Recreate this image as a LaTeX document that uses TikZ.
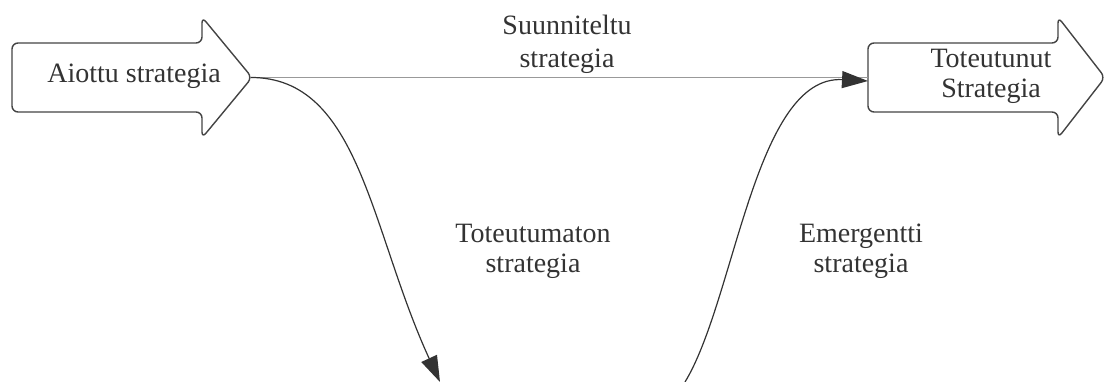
\documentclass[tikz,border=0pt]{standalone}
\usepackage{fontspec}
\setmainfont{Liberation Serif}
\newfontfamily\lblfont{Liberation Serif}
\usetikzlibrary{arrows.meta}
\definecolor{shapegray}{HTML}{444444}
\definecolor{linegray}{HTML}{333333}
\definecolor{lightline}{HTML}{999999}
\definecolor{txtgray}{HTML}{333333}
\begin{document}
\begin{tikzpicture}[x=1pt,y=-1pt,
  bigarrow/.style={draw=shapegray, line width=1.4pt, rounded corners=6pt, fill=white},
  lbl/.style={font=\lblfont\fontsize{28}{30}\selectfont, text=txtgray, align=center, inner sep=0pt},
  conn/.style={draw=linegray, line width=1.2pt, -{Triangle[length=26pt,width=17pt]}},
  plain/.style={draw=lightline, line width=1.8pt}]
\useasboundingbox (0,0) rectangle (1106,382);
% left big arrow
\draw[bigarrow] (12,77.5) -- (12,43) -- (202,43) -- (202,17) -- (252,77.5) -- (202,138) -- (202,112) -- (12,112) -- cycle;
% right big arrow
\draw[bigarrow] (868,77.5) -- (868,43) -- (1058,43) -- (1058,17) -- (1105,77.5) -- (1058,138) -- (1058,112) -- (868,112) -- cycle;
\coordinate (atip) at (250.5,77.5);
\coordinate (rin) at (868,77.5);
\coordinate (rin2) at (868,81);
\coordinate (lend) at (440,382);
\coordinate (rstart) at (685,382);
% texts
\node[lbl, anchor=base] (aiottu) at (134,83) {Aiottu strategia};
\node[lbl] (toteutunut) at (991,76.8) {Toteutunut\\Strategia};
\node[lbl, font=\lblfont\fontsize{28}{33}\selectfont] (suunn) at (567,44) {Suunniteltu\\strategia};
\node[lbl] (toteutumaton) at (533,251.8) {Toteutumaton\\strategia};
\node[lbl] (emerg) at (861,251.3) {Emergentti\\strategia};
% connectors
\draw[plain] (atip) -- (rin);
\draw[conn] (atip) .. controls (360,77) and (370,230) .. (lend);
\draw[conn] (rstart) .. controls (735,300) and (755,75) .. (rin2);
\end{tikzpicture}
\end{document}
